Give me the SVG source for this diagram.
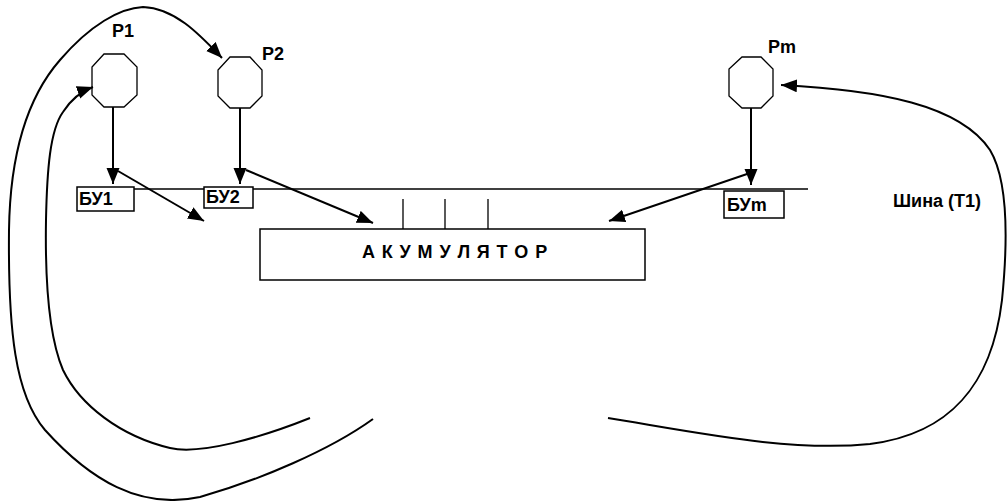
<svg xmlns="http://www.w3.org/2000/svg" width="1007" height="501" viewBox="0 0 1007 501">
<defs>
<marker id="ah" markerUnits="userSpaceOnUse" markerWidth="18" markerHeight="14" refX="16" refY="6.5" orient="auto">
<path d="M0,0 L16,6.5 L0,13 z" fill="#000"/>
</marker>
<style>
.oct{fill:#fff;stroke:#000;stroke-width:1.3}
.box{fill:#fff;stroke:#000;stroke-width:1.5}
.lbl{font-family:"Liberation Sans",Arial,sans-serif;font-weight:bold;font-size:18px;fill:#000}
.arr{fill:none;stroke:#000;stroke-width:2;marker-end:url(#ah)}
.thin{fill:none;stroke:#000;stroke-width:1.3}
</style>
</defs>
<rect width="1007" height="501" fill="#fff"/>
<g id="bus">
<line class="thin" x1="134" y1="189" x2="808" y2="189"/>
<text class="lbl" x="893" y="207" font-size="19">Шина (Т1)</text>
</g>
<g id="accumulator">
<line class="thin" x1="403" y1="199" x2="403" y2="229"/>
<line class="thin" x1="445" y1="199" x2="445" y2="229"/>
<line class="thin" x1="488" y1="199" x2="488" y2="229"/>
<rect class="box" x="260" y="229" width="385" height="51"/>
<text class="lbl" x="362" y="258" letter-spacing="0.9">А К У М У Л Я Т О Р</text>
</g>
<g id="P1">
<polygon class="oct" points="104,54 124,54 137,67 137,95 124,107 104,107 92,95 92,67"/>
<text class="lbl" x="112" y="37">P1</text>
</g>
<g id="P2">
<polygon class="oct" points="230,57 250,57 262,70 262,96 250,108 230,108 218,96 218,70"/>
<text class="lbl" x="262" y="60">P2</text>
</g>
<g id="Pm">
<polygon class="oct" points="742,57 761,57 773,69 773,96 761,108 742,108 729,96 729,69"/>
<text class="lbl" x="768" y="53">Pm</text>
</g>
<g id="BU1">
<rect class="box" x="77" y="187" width="57" height="24"/>
<text class="lbl" x="79" y="205">БУ1</text>
</g>
<g id="BU2">
<rect class="box" x="204" y="187" width="49" height="21"/>
<text class="lbl" x="206" y="203">БУ2</text>
</g>
<g id="BUm">
<rect class="box" x="724" y="191" width="60" height="27"/>
<text class="lbl" x="727" y="211">БУm</text>
</g>
<g id="connectors">
<line class="arr" x1="113" y1="107" x2="113" y2="184"/>
<line class="arr" x1="240" y1="108" x2="240" y2="184"/>
<line class="arr" x1="751" y1="108" x2="751" y2="185"/>
<line class="arr" x1="118" y1="171" x2="204" y2="221"/>
<line class="arr" x1="246" y1="170" x2="373" y2="223"/>
<line class="arr" x1="750" y1="173" x2="609" y2="221"/>
<path class="arr" d="M373,419 C330,450 260,480 200,497 C140,510 90,480 45,430 C15,395 8,330 9,230 C10,160 25,100 60,60 C90,25 120,8 143,7 C175,8 200,35 222,58"/>
<path class="arr" d="M310,418 C260,438 200,455 170,448 C120,436 80,405 63,370 C48,335 45,280 46,220 C47,170 50,130 63,112 C72,98 82,91 93,87"/>
<path class="arr" d="M608,418 C700,433 790,452 870,444 C950,434 992,385 1002,300 C1008,240 1008,180 990,150 C960,105 880,90 781,85"/>
</g>
</svg>
